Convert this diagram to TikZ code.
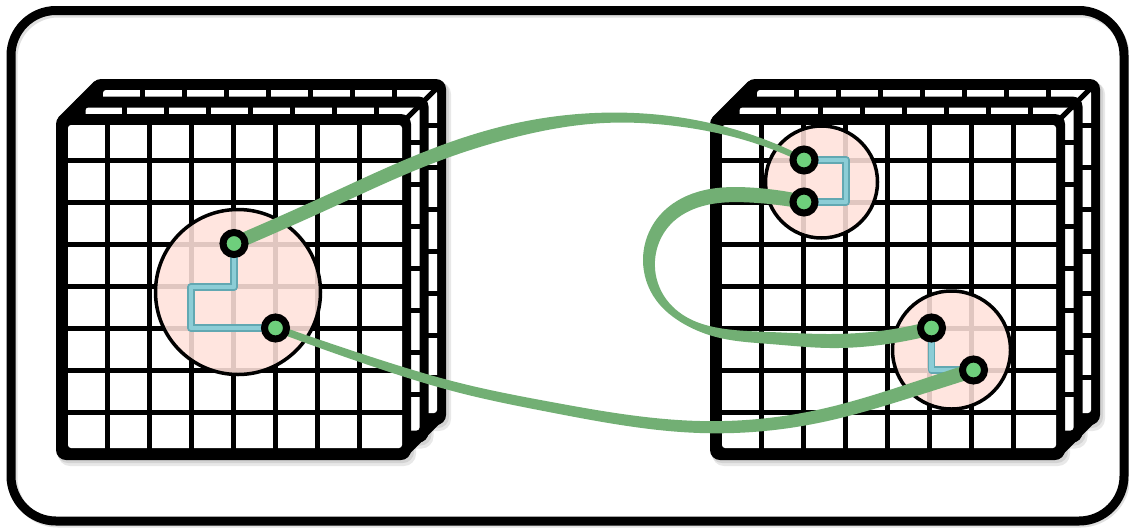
\documentclass[tikz,border=0pt]{standalone}
\usetikzlibrary{hobby}
\definecolor{ribboncol}{RGB}{114,175,116}
\definecolor{dotgreen}{RGB}{110,207,124}
\definecolor{pinkfill}{RGB}{255,226,219}
\definecolor{bluefill}{RGB}{140,205,214}
\definecolor{blueedge}{RGB}{98,168,178}

\tikzset{
  gridline/.style={line width=5pt},
  layerlink/.style={line width=9pt, line cap=round},
  softshadow/.style={fill=black, fill opacity=0.09},
  zoomcircle/.style={circle, draw=black, line width=3.5pt, fill=pinkfill, fill opacity=0.88, draw opacity=1, inner sep=0pt},
  dotnode/.style={circle, draw=black, fill=dotgreen, line width=7pt, inner sep=0pt, minimum size=22pt},
  bluepathedge/.style={draw=blueedge, line width=7.5pt, line join=round},
  bluepathfill/.style={draw=bluefill, line width=4.5pt, line join=round},
  frame/.style={line width=9pt, rounded corners=45pt},
  ribbonfill/.style={fill=ribboncol}
}

% soft shadow of one grid layer, shifted by (#1,#2)
\newcommand\layershadow[2]{%
  \begin{scope}[shift={(#1,#2)}]
    \fill[softshadow, rounded corners=12pt] (58,117) rectangle (416,466);
    \fill[softshadow, rounded corners=11pt] (57,116) rectangle (414,463);
  \end{scope}}

% one grid layer, shifted by (#1,#2)
\newcommand\gridlayer[2]{%
  \begin{scope}[shift={(#1,#2)}]
    \fill[black, rounded corners=10pt] (56,114) rectangle (411,460);
    \fill[white, rounded corners=3pt] (68,125) rectangle (402,448);
    \foreach \k in {0,...,6} {
      \draw[gridline] ({107.3+41.95*\k},124) -- ({107.3+41.95*\k},449);
      \draw[gridline] (67,{160+42*\k}) -- (403,{160+42*\k});
    }
  \end{scope}}

% links between a layer at (#1,#2) and the one behind it
\newcommand\layerlinks[2]{%
  \begin{scope}[shift={(#1,#2)}]
    \draw[layerlink] (62,120) -- (79.5,102.5);
    \draw[layerlink] (404,453) -- (421.5,435.5);
    \draw[line width=5pt] (406,119) -- (423.5,101.5);
  \end{scope}}

\newcommand\gridstack[1]{%
  \layershadow{#1+35}{-35}
  \layershadow{#1+17.5}{-17.5}
  \layershadow{#1}{0}
  \gridlayer{#1+35}{-35}
  \layerlinks{#1+17.5}{-17.5}
  \gridlayer{#1+17.5}{-17.5}
  \layerlinks{#1}{0}
  \gridlayer{#1}{0}}

\begin{document}
\begin{tikzpicture}[x=1pt,y=-1pt]
\useasboundingbox (0,0) rectangle (1129,528);

% outer frame with a soft shadow
\draw[frame, draw=black, draw opacity=0.12] (13,13) rectangle (1125.5,523);
\draw[frame] (11,10.5) rectangle (1124,521);

% grid stacks
\gridstack{0}
\gridstack{654}

% magnifying circles
\node[zoomcircle, minimum size=165pt] (cL) at (238,292) {};
\node[zoomcircle, minimum size=112pt] (cRt) at (821.5,182) {};
\node[zoomcircle, minimum size=118pt] (cRb) at (951.5,350) {};

% points
\coordinate (L1) at (234,243.5);
\coordinate (L2) at (275.5,328);
\coordinate (R1) at (804,160);
\coordinate (R2) at (804,202);
\coordinate (R3) at (931.5,328);
\coordinate (R4) at (973.5,370);

% blue paths
\draw[bluepathedge] (L1) -- (234,287) -- (191,287) -- (191,328) -- (L2);
\draw[bluepathfill] (L1) -- (234,287) -- (191,287) -- (191,328) -- (L2);
\draw[bluepathedge] (R1) -- (846,160) -- (846,202) -- (R2);
\draw[bluepathfill] (R1) -- (846,160) -- (846,202) -- (R2);
\draw[bluepathedge] (R3) -- (931.5,370) -- (R4);
\draw[bluepathfill] (R3) -- (931.5,370) -- (R4);

% ribbon L1 -> R1 (thick to thin)
\fill[ribbonfill]
  (231.25,237.3) to[curve through={(327.25,194.8) .. (427.4,150.6) .. (510,124.5) .. (599.6,112.8) .. (680.6,117.5) .. (747.9,133.5)}] (805.3,157.5)
  -- (802.7,162.5) to[curve through={(746.1,140.5) .. (679.4,126.5) .. (600.4,123.2) .. (512,138) .. (432.6,163.4) .. (332.75,207.2)}] (236.75,249.7)
  -- cycle;

% ribbon L2 -> R4 (thin to thick)
\fill[ribbonfill]
  (276.65,324.7) to[curve through={(374.3,357.9) .. (461.2,383.35) .. (550.8,401.9) .. (700.2,421) .. (818.9,409.6) .. (910,383.3)}] (971.2,362.9)
  -- (975.8,377.1) to[curve through={(914,396.7) .. (821.1,422.4) .. (699.8,433) .. (549.2,412.1) .. (458.8,392.65) .. (371.7,366.1)}] (274.35,331.3)
  -- cycle;

% ribbon R2 -> R3 (loop with a twist)
\fill[ribbonfill]
  (803.1,208.9) to[curve through={(749.8,202.5) .. (702.1,206.2) .. (670.4,224.5) .. (655,260.4) .. (664,296) .. (690,319) .. (722,328.5) .. (770,332) .. (830,334) .. (879.1,331.1)}] (930.2,321.1)
  -- (932.8,334.9) to[curve through={(880.9,344.9) .. (830,348) .. (770,344) .. (718,337.5) .. (684,324) .. (656,300) .. (643,259.6) .. (659.6,215.5) .. (697.9,191.8) .. (750.2,187.5)}] (804.9,195.1)
  -- cycle;

% dots
\foreach \p in {L1,L2,R1,R2,R3,R4}
  \node[dotnode] (d\p) at (\p) {};
\end{tikzpicture}
\end{document}
